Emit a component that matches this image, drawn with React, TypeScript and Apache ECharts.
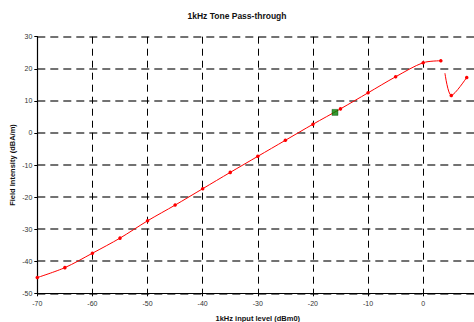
import React, { useEffect, useRef } from "react";
import * as echarts from "echarts";

const inputLevels = [-70, -65, -60, -55, -50, -45, -40, -35, -30, -25, -20, -15, -10, -5, 0, 3.2];
const fieldIntensity = [-45.1, -42.0, -37.5, -32.8, -27.4, -22.5, -17.4, -12.3, -7.3, -2.3, 2.7, 7.5, 12.5, 17.5, 21.9, 22.5];
const tailLevels = [3.95, 5.1, 7.9];
const tailIntensity = [18.6, 11.7, 17.3];
const markerLevel = [-16];
const markerIntensity = [6.4];

const FONT = "Liberation Sans, Arial, sans-serif";

export default function App() {
  const ref = useRef<HTMLDivElement>(null);
  useEffect(() => {
    if (!ref.current) return;
    const chart = echarts.init(ref.current, null, { renderer: "svg" });
    chart.setOption({
      animation: false,
      backgroundColor: "#ffffff",
      title: {
        text: "1kHz Tone Pass-through",
        left: "center",
        top: 6,
        textStyle: { fontFamily: FONT, fontSize: 8.5, fontWeight: "bold", color: "#111" },
      },
      grid: {
        left: 37.3,
        right: -4.3,
        top: 36.7,
        bottom: 28.7,
        containLabel: false,
        outerBoundsMode: "none",
      },
      xAxis: {
        type: "value",
        min: -70,
        max: 10,
        interval: 10,
        name: "1kHz input level (dBm0)",
        nameLocation: "middle",
        nameGap: 21,
        nameTextStyle: { fontFamily: FONT, fontSize: 7.5, fontWeight: "bold", color: "#111" },
        axisLine: { show: true, onZero: false, lineStyle: { color: "#000", width: 1.2 } },
        axisTick: { show: true, length: 3, lineStyle: { color: "#000" } },
        axisLabel: { fontFamily: FONT, fontSize: 7, color: "#333", margin: 7, showMaxLabel: false },
        splitLine: { show: true, lineStyle: { color: "#000", width: 1, type: [7, 5] } },
      },
      yAxis: {
        type: "value",
        min: -50,
        max: 30,
        interval: 10,
        name: "Field Intensity (dBA/m)",
        nameLocation: "middle",
        nameGap: 21,
        nameMoveOverlap: false,
        nameTextStyle: { fontFamily: FONT, fontSize: 7.5, fontWeight: "bold", color: "#111" },
        axisLine: { show: true, onZero: false, lineStyle: { color: "#000", width: 1.2 } },
        axisTick: { show: true, length: 3, lineStyle: { color: "#000" } },
        axisLabel: { fontFamily: FONT, fontSize: 7, color: "#333", margin: 5 },
        splitLine: { show: true, lineStyle: { color: "#444", width: 1.5, type: [8, 5] } },
      },
      series: [
        {
          type: "line",
          data: inputLevels.map((x, i) => [x, fieldIntensity[i]]),
          smooth: 0.3,
          symbol: "circle",
          symbolSize: 3.5,
          itemStyle: { color: "#ff0000" },
          lineStyle: { color: "#ff0000", width: 1 },
        },
        {
          type: "line",
          data: tailLevels.map((x, i) => ({
            value: [x, tailIntensity[i]],
            symbol: i === 0 ? "none" : "circle",
          })),
          smooth: 0.3,
          symbolSize: 3.5,
          itemStyle: { color: "#ff0000" },
          lineStyle: { color: "#ff0000", width: 1 },
        },
        {
          type: "scatter",
          data: markerLevel.map((x, i) => [x, markerIntensity[i]]),
          symbol: "rect",
          symbolSize: 6,
          itemStyle: { color: "#008000", borderColor: "#004000", borderWidth: 0.5 },
          z: 5,
        },
      ],
    });
    return () => chart.dispose();
  }, []);
  return <div ref={ref} style={{ width: 474, height: 322, position: "absolute", left: 0, top: 0 }} />;
}
